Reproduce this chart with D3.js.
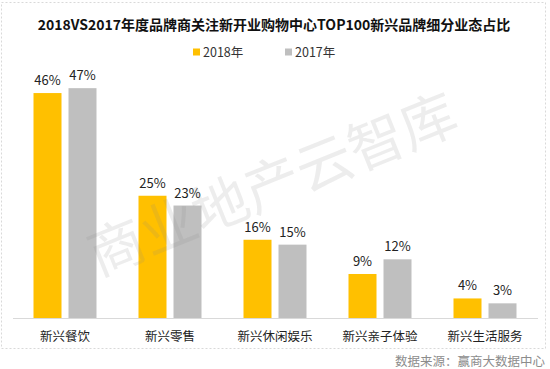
<!DOCTYPE html>
<html>
<head>
<meta charset="utf-8">
<script src="https://cdn.jsdelivr.net/npm/d3@7"></script>
<style>
  body { margin: 0; background: #fff; }
  svg { display: block; font-family: "Noto Sans CJK SC", "Noto Sans", sans-serif; }
</style>
</head>
<body>
<svg id="chart"></svg>
<script>
const categories = ["新兴餐饮", "新兴零售", "新兴休闲娱乐", "新兴亲子体验", "新兴生活服务"];
const seriesNames = ["2018年", "2017年"];
const values2018 = [0.46, 0.25, 0.16, 0.09, 0.04];
const values2017 = [0.47, 0.23, 0.15, 0.12, 0.03];
const colors = ["#FFC000", "#BFBFBF"];

const width = 550, height = 369;
const svg = d3.select("#chart")
    .attr("width", width)
    .attr("height", height);

// dashed frame around chart
svg.append("rect")
    .attr("x", 1.5).attr("y", 2.5)
    .attr("width", 544).attr("height", 346)
    .attr("fill", "none")
    .attr("stroke", "#d9d9d9")
    .attr("stroke-dasharray", "2,2");

// title
svg.append("text")
    .attr("x", 274).attr("y", 30)
    .attr("text-anchor", "middle")
    .attr("font-size", 14)
    .attr("font-weight", "bold")
    .attr("fill", "#111")
    .text("2018VS2017年度品牌商关注新开业购物中心TOP100新兴品牌细分业态占比");

// legend
const legend = svg.append("g").selectAll("g")
    .data(seriesNames)
    .enter().append("g")
    .attr("transform", (d, i) => "translate(" + (193 + i * 92) + ",52)");
legend.append("rect")
    .attr("x", 0).attr("y", -3.5)
    .attr("width", 7).attr("height", 7)
    .attr("fill", (d, i) => colors[i]);
legend.append("text")
    .attr("x", 10).attr("y", 4.5)
    .attr("font-size", 12.5)
    .attr("fill", "#333")
    .text(d => d);

// scales
const x = d3.scaleBand().domain(categories).range([12.5, 537.5]);
const x1 = d3.scaleBand().domain(seriesNames).range([21, 84]).paddingInner(0.2);
const y = d3.scaleLinear().domain([0, 0.5]).range([318, 73.5]);

const data = categories.map((c, i) => ({
    category: c,
    vals: [
        { name: seriesNames[0], value: values2018[i], color: colors[0] },
        { name: seriesNames[1], value: values2017[i], color: colors[1] }
    ]
}));

const groups = svg.append("g").selectAll("g")
    .data(data)
    .enter().append("g")
    .attr("transform", d => "translate(" + x(d.category) + ",0)");

groups.selectAll("rect")
    .data(d => d.vals)
    .enter().append("rect")
    .attr("x", d => x1(d.name))
    .attr("width", x1.bandwidth())
    .attr("y", d => y(d.value))
    .attr("height", d => y(0) - y(d.value))
    .attr("fill", d => d.color);

groups.selectAll("text.val")
    .data(d => d.vals)
    .enter().append("text")
    .attr("class", "val")
    .attr("x", d => x1(d.name) + x1.bandwidth() / 2)
    .attr("y", d => y(d.value) - 8)
    .attr("text-anchor", "middle")
    .attr("font-size", 13)
    .attr("fill", "#222")
    .text(d => d3.format(".0%")(d.value));

// x axis
const xAxis = svg.append("g")
    .attr("transform", "translate(0," + y(0) + ")")
    .call(d3.axisBottom(x).tickSize(0).tickPadding(14));
xAxis.select(".domain").attr("stroke", "#d9d9d9");
xAxis.selectAll("text")
    .attr("font-size", 12.5)
    .attr("font-family", "'Noto Sans CJK SC', sans-serif")
    .attr("fill", "#222");

// watermark, laid over the bars
svg.append("text")
    .attr("transform", "translate(280,203) rotate(-22)")
    .attr("text-anchor", "middle")
    .attr("font-family", "'DejaVu Serif', 'Noto Sans CJK SC', serif")
    .attr("font-size", 56)
    .attr("fill", "#888")
    .attr("fill-opacity", 0.15)
    .text("商业地产云智库");

// source
svg.append("text")
    .attr("x", 545).attr("y", 366)
    .attr("text-anchor", "end")
    .attr("font-size", 12.5)
    .attr("fill", "#8c8c8c")
    .text("数据来源：赢商大数据中心");
</script>
</body>
</html>
